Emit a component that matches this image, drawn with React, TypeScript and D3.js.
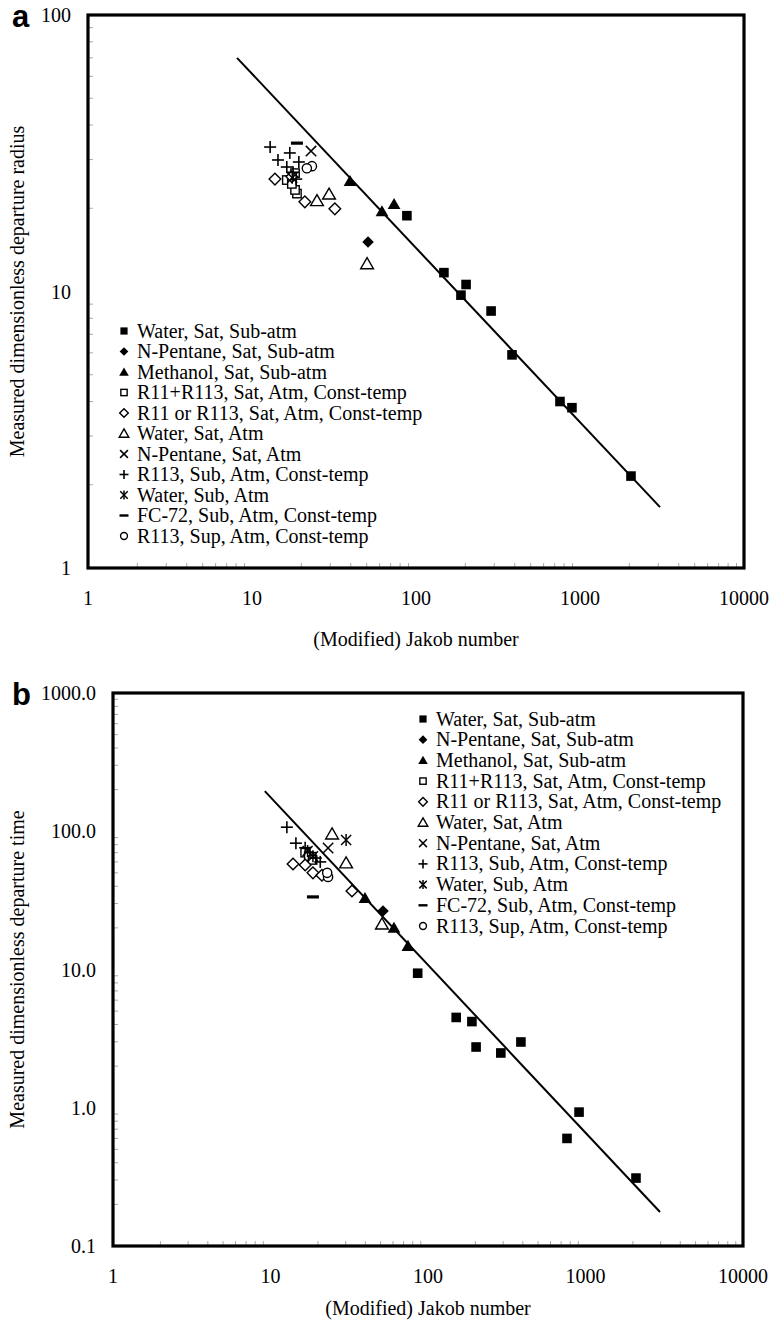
import React from "react";
import * as d3 from "d3";

// ---------- DATA ----------
const seriesNames = [
  "Water, Sat, Sub-atm",
  "N-Pentane, Sat, Sub-atm",
  "Methanol, Sat, Sub-atm",
  "R11+R113, Sat, Atm, Const-temp",
  "R11 or R113, Sat, Atm, Const-temp",
  "Water, Sat, Atm",
  "N-Pentane, Sat, Atm",
  "R113, Sub, Atm, Const-temp",
  "Water, Sub, Atm",
  "FC-72, Sub, Atm, Const-temp",
  "R113, Sup, Atm, Const-temp",
];
const markerTypes = [
  "squareFilled", "diamondFilled", "triangleFilled", "squareOpen", "diamondOpen",
  "triangleOpen", "cross", "plus", "asterisk", "minus", "circleOpen",
];

// Panel a: departure radius
const waterSatSubA = [[88, 18.8], [148, 11.7], [188, 9.7], [202, 10.6], [287, 8.5], [385, 5.9], [755, 4.0], [893, 3.8], [2046, 2.15]];
const pentaneSatSubA = [[51, 15.1]];
const methanolA = [[39.6, 25.1], [62, 19.5], [73.5, 20.7]];
const r11r113A = [[16.3, 25.3], [18.3, 26.8], [18.8, 22.6], [18.3, 23.3], [17.5, 24.5]];
const r11orR113A = [[13.8, 25.5], [21, 21.1], [32, 19.9], [17.5, 26]];
const waterSatAtmA = [[24.9, 21.3], [29.5, 22.5], [50.3, 12.6]];
const pentaneSatAtmA = [[22.9, 32.2]];
const r113SubA = [[12.9, 33.3], [17, 31.7], [14.4, 29.9], [19.3, 29.4], [16.3, 28.2], [17.8, 27], [18.6, 25.5]];
const waterSubA = [[17.6, 25.8]];
const fc72A = [[18.8, 34.4]];
const r113SupA = [[23.2, 28.4], [21.6, 27.9]];
const fitLineA = [[8.1, 70], [3076, 1.66]];

// Panel b: departure time
const waterSatSubB = [[86, 9.4], [151, 4.5], [190, 4.2], [202, 2.75], [290, 2.49], [389, 2.99], [763, 0.6], [910, 0.93], [2092, 0.31]];
const pentaneSatSubB = [[51.8, 26.5]];
const methanolB = [[39.8, 32.9], [60.8, 20], [74.6, 14.8]];
const r11r113B = [[16.6, 70], [17.5, 66], [18.5, 62]];
const r11orR113B = [[13.9, 58], [16.6, 57], [18.6, 50], [21.2, 48], [32.9, 37]];
const waterSatAtmB = [[24.6, 95.5], [30.2, 59], [51, 21.3]];
const pentaneSatAtmB = [[23.2, 75.7]];
const r113SubB = [[12.7, 107], [14.5, 82], [16.6, 76], [17.8, 70], [19.4, 64], [20.7, 60]];
const waterSubB = [[30.2, 86.5], [17.2, 72], [18.6, 66]];
const fc72B = [[18.6, 33.5]];
const r113SupB = [[23.2, 46.7], [22.9, 50]];
const fitLineB = [[9.2, 195], [2972, 0.176]];

const xTicks = [1, 10, 100, 1000, 10000];
const yTicksA = [1, 10, 100];
const yTicksB = [0.1, 1, 10, 100, 1000];
const xTitle = "(Modified) Jakob number";
const yTitleA = "Measured dimensionless departure radius";
const yTitleB = "Measured dimensionless departure time";

const seriesA = [waterSatSubA, pentaneSatSubA, methanolA, r11r113A, r11orR113A, waterSatAtmA, pentaneSatAtmA, r113SubA, waterSubA, fc72A, r113SupA];
const seriesB = [waterSatSubB, pentaneSatSubB, methanolB, r11r113B, r11orR113B, waterSatAtmB, pentaneSatAtmB, r113SubB, waterSubB, fc72B, r113SupB];

// ---------- DRAWING ----------
const FONT = "'Liberation Serif', 'Times New Roman', serif";
const FS = 20;

function Marker({ type, x, y, k = 1 }: { type: string; x: number; y: number; k?: number }) {
  const sw = 1.4;
  if (type === "squareFilled") {
    const s = 4.8 * k;
    return <rect x={x - s} y={y - s} width={2 * s} height={2 * s} fill="#000" />;
  }
  if (type === "squareOpen") {
    const s = 4.2 * k;
    return <rect x={x - s} y={y - s} width={2 * s} height={2 * s} fill="#fff" stroke="#000" strokeWidth={sw} />;
  }
  if (type === "diamondFilled" || type === "diamondOpen") {
    const s = 5.8 * k;
    const p = `${x},${y - s} ${x + s},${y} ${x},${y + s} ${x - s},${y}`;
    return type === "diamondFilled"
      ? <polygon points={p} fill="#000" />
      : <polygon points={p} fill="#fff" stroke="#000" strokeWidth={sw} />;
  }
  if (type === "triangleFilled" || type === "triangleOpen") {
    const s = 5.8 * k;
    const p = `${x},${y - s * 1.05} ${x + s * 1.1},${y + s * 0.85} ${x - s * 1.1},${y + s * 0.85}`;
    return type === "triangleFilled"
      ? <polygon points={p} fill="#000" />
      : <polygon points={p} fill="#fff" stroke="#000" strokeWidth={sw} />;
  }
  if (type === "cross") {
    const s = 5.2 * k;
    return (
      <g stroke="#000" strokeWidth={1.5}>
        <line x1={x - s} y1={y - s} x2={x + s} y2={y + s} />
        <line x1={x - s} y1={y + s} x2={x + s} y2={y - s} />
      </g>
    );
  }
  if (type === "plus") {
    const s = 6 * k;
    return (
      <g stroke="#000" strokeWidth={1.6}>
        <line x1={x - s} y1={y} x2={x + s} y2={y} />
        <line x1={x} y1={y - s} x2={x} y2={y + s} />
      </g>
    );
  }
  if (type === "asterisk") {
    const s = 5 * k;
    return (
      <g stroke="#000" strokeWidth={1.5}>
        <line x1={x - s} y1={y - s} x2={x + s} y2={y + s} />
        <line x1={x - s} y1={y + s} x2={x + s} y2={y - s} />
        <line x1={x} y1={y - s * 1.2} x2={x} y2={y + s * 1.2} />
      </g>
    );
  }
  if (type === "minus") {
    const w = 6 * k;
    return <rect x={x - w} y={y - 1.6 * k} width={2 * w} height={3.2 * k} fill="#000" />;
  }
  // circleOpen
  return <circle cx={x} cy={y} r={4.6 * k} fill="#fff" stroke="#000" strokeWidth={sw} />;
}

type PanelProps = {
  letter: string;
  left: number; right: number; top: number; bottom: number;
  yDomain: [number, number];
  yTicks: number[];
  yFmt: (d: number) => string;
  series: number[][][];
  fit: number[][];
  yTitle: string;
  xTitleY: number;
  legendX: number; legendY: number; legendStep: number;
};

function Panel(p: PanelProps) {
  const x = d3.scaleLog().domain([1, 10000]).range([p.left, p.right]);
  const y = d3.scaleLog().domain(p.yDomain).range([p.bottom, p.top]);
  const line = d3.line<number[]>().x((d) => x(d[0])).y((d) => y(d[1]));

  const minorX: number[] = [];
  for (let e = 0; e < 4; e++) for (let m = 2; m <= 9; m++) minorX.push(m * Math.pow(10, e));
  const minorY: number[] = [];
  const e0 = Math.round(Math.log10(p.yDomain[0]));
  const e1 = Math.round(Math.log10(p.yDomain[1]));
  for (let e = e0; e < e1; e++) for (let m = 2; m <= 9; m++) minorY.push(m * Math.pow(10, e));

  return (
    <g>
      <text x={12} y={p.top + 12} fontFamily="'Liberation Sans', Arial, sans-serif" fontWeight="bold" fontSize={31}>{p.letter}</text>
      {minorX.map((v, i) => (
        <line key={"mx" + i} x1={x(v)} x2={x(v)} y1={p.bottom} y2={p.bottom - 5} stroke="#aaa" strokeWidth={1} />
      ))}
      {minorY.map((v, i) => (
        <line key={"my" + i} x1={p.left} x2={p.left + 5} y1={y(v)} y2={y(v)} stroke="#aaa" strokeWidth={1} />
      ))}
      <path d={line(p.fit) || ""} fill="none" stroke="#000" strokeWidth={2} />
      {p.series.map((s, si) =>
        s.map((d, i) => <Marker key={si + "-" + i} type={markerTypes[si]} x={x(d[0])} y={y(d[1])} />)
      )}
      <rect x={p.left} y={p.top} width={p.right - p.left} height={p.bottom - p.top} fill="none" stroke="#000" strokeWidth={3.2} />
      {xTicks.map((v) => (
        <text key={"xt" + v} x={x(v)} y={p.bottom + 37} textAnchor="middle" fontFamily={FONT} fontSize={FS}>{String(v)}</text>
      ))}
      {p.yTicks.map((v) => (
        <text key={"yt" + v} x={p.left - 17} y={y(v) + 7} textAnchor="end" fontFamily={FONT} fontSize={FS}>{p.yFmt(v)}</text>
      ))}
      <text x={(p.left + p.right) / 2} y={p.xTitleY} textAnchor="middle" fontFamily={FONT} fontSize={FS}>{xTitle}</text>
      <text transform={`translate(24,${(p.top + p.bottom) / 2}) rotate(-90)`} textAnchor="middle" fontFamily={FONT} fontSize={FS}>{p.yTitle}</text>
      {seriesNames.map((n, i) => (
        <g key={"lg" + i}>
          <Marker type={markerTypes[i]} x={p.legendX} y={p.legendY + i * p.legendStep} k={0.75} />
          <text x={p.legendX + 13} y={p.legendY + i * p.legendStep + 6.5} fontFamily={FONT} fontSize={FS}>{n}</text>
        </g>
      ))}
    </g>
  );
}

export default function App() {
  return (
    <svg width={772} height={1324} style={{ display: "block", position: "absolute", left: 0, top: 0, background: "#fff" }}>
      <rect x={0} y={0} width={772} height={1324} fill="#fff" />
      <Panel
        letter="a" left={88} right={744} top={15} bottom={568}
        yDomain={[1, 100]} yTicks={yTicksA} yFmt={(d) => String(d)}
        series={seriesA} fit={fitLineA} yTitle={yTitleA} xTitleY={646}
        legendX={124} legendY={331} legendStep={20.5}
      />
      <Panel
        letter="b" left={113} right={743} top={693} bottom={1246}
        yDomain={[0.1, 1000]} yTicks={yTicksB} yFmt={(d) => d.toFixed(1)}
        series={seriesB} fit={fitLineB} yTitle={yTitleB} xTitleY={1315}
        legendX={423} legendY={719} legendStep={20.7}
      />
    </svg>
  );
}
